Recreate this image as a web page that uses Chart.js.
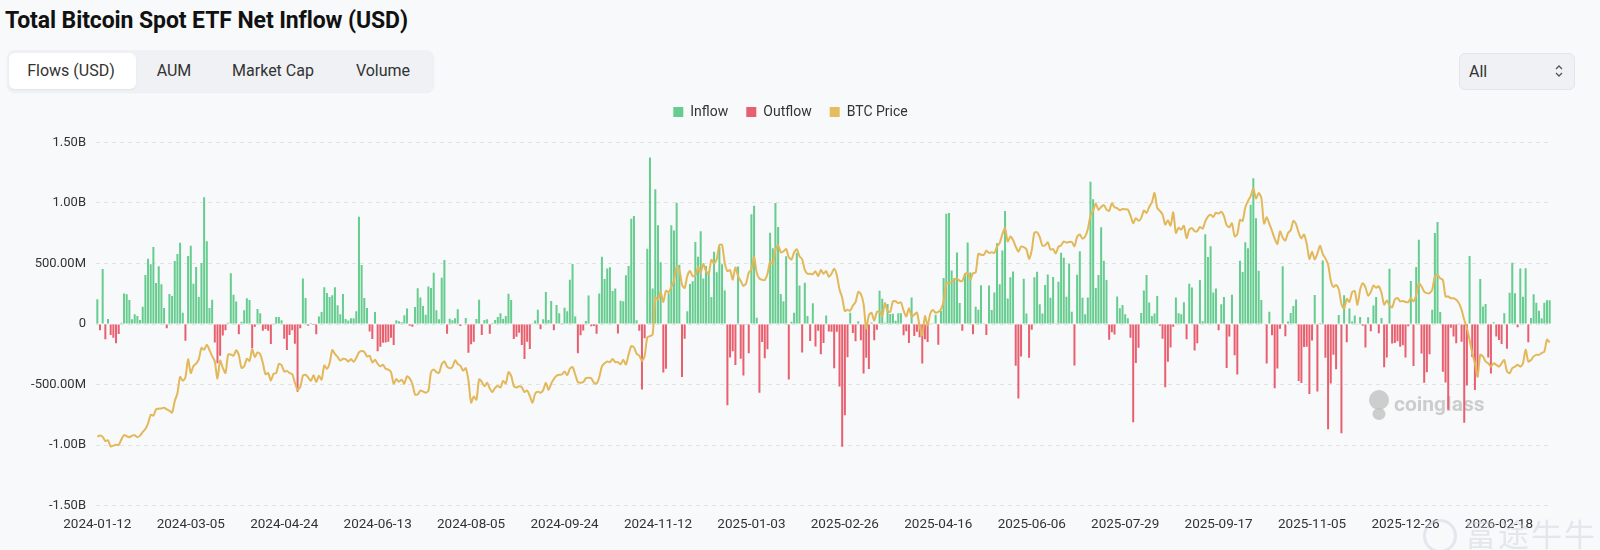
<!DOCTYPE html>
<html>
<head>
<meta charset="utf-8">
<script src="https://cdn.jsdelivr.net/npm/chart.js@4.4.1/dist/chart.umd.min.js"></script>
<style>
html,body{margin:0;padding:0;}
body{width:1600px;height:550px;background:#f8f9fa;position:relative;overflow:hidden;font-family:Roboto,"Noto Sans",sans-serif;color:#333;}
#title{position:absolute;left:5px;top:7px;font-weight:700;font-size:23px;line-height:27px;letter-spacing:-0.1px;color:#111;white-space:nowrap;}
.tabs{position:absolute;left:7px;top:50px;width:427px;height:42px;background:#eff1f4;border-radius:8px;box-shadow:0 1px 2px rgba(0,0,0,0.05);}
.tabs .sel{position:absolute;left:2px;top:3px;width:127px;height:36px;background:#fff;border-radius:6px;box-shadow:0 1px 2px rgba(0,0,0,0.06);}
.tabs span{position:absolute;top:0;line-height:42px;font-size:16px;transform:translateX(-50%);white-space:nowrap;color:#333;}
.select{position:absolute;left:1459px;top:53px;width:114px;height:35px;background:#eff1f4;border:1px solid #e2e5e9;border-radius:6px;}
.select span{position:absolute;left:9px;top:0;line-height:35px;font-size:16px;color:#333;}
.select svg{position:absolute;right:10px;top:9px;}
#chart{position:absolute;left:0;top:87px;}
#wm2{position:absolute;left:1423px;top:516px;width:180px;height:36px;pointer-events:none;opacity:0.45;white-space:nowrap;}
#wm2 .c{position:absolute;left:0;top:3px;width:28px;height:28px;border:3px solid #c9d1dc;border-radius:50%;}
#wm2 .t{position:absolute;left:42px;top:-1px;font-family:"Noto Sans CJK SC";font-size:31px;line-height:36px;color:#c9d1dc;letter-spacing:2px;white-space:nowrap;}
</style>
</head>
<body>
<div id="title">Total Bitcoin Spot ETF Net Inflow (USD)</div>
<div class="tabs">
  <div class="sel"></div>
  <span style="left:64px">Flows (USD)</span>
  <span style="left:167px">AUM</span>
  <span style="left:266px">Market Cap</span>
  <span style="left:376px">Volume</span>
</div>
<div class="select"><span>All</span>
  <svg width="10" height="16" viewBox="0 0 10 16"><path d="M2 6 L5 3 L8 6" fill="none" stroke="#555" stroke-width="1.3"/><path d="M2 10 L5 13 L8 10" fill="none" stroke="#555" stroke-width="1.3"/></svg>
</div>
<canvas id="chart" width="1600" height="463"></canvas>
<div id="wm2"><div class="c"></div><div class="t">富途牛牛</div></div>
<script>
// ---- data (flows in millions USD, BTC price in thousand USD) ----
const flows2024 = [
204,-52,455,-127,41,-91,-113,-160,-83,11,
253,245,198,39,80,66,33,143,405,540,
493,636,339,477,328,132,-36,248,231,521,
579,672,94,-138,562,647,333,471,223,504,
1047,683,132,201,-152,-325,-262,-96,-52,11,
419,242,185,-85,19,113,212,198,-201,-22,
124,88,-55,-41,-55,-165,3,58,58,30,
-121,-215,-91,-52,-163,-559,-36,377,215,-14,
8,-8,-85,63,99,303,256,223,237,303,
154,80,248,41,28,47,47,105,887,488,
215,132,-63,-124,99,-226,-187,-154,-152,-146,
-113,-174,30,22,14,72,129,-14,-22,141,
295,218,149,77,309,298,424,113,39,383,
529,-80,44,30,47,121,-17,5,50,-237,
-168,-146,41,201,-91,33,39,-80,8,33,
58,88,44,66,251,198,-124,-105,-72,-174,
-289,-146,-207,3,28,118,-44,39,264,33,
190,-52,157,88,8,135,105,366,496,61,
-242,-92,-54,25,235,-18,-16,-81,253,556,
371,458,470,273,294,-79,192,188,402,479,
870,893,30,-55,-541,-117,622,1376,293,1114,
817,510,-400,-370,255,816,773,1003,490,-438,
-122,105,330,353,677,556,767,376,479,438,
223,597,428,637,493,276,-672,-277,-226,-339,
475,-287,-426,5
];
const flows2025 = [
-242,908,978,52,-568,-149,
-284,-209,755,626,1000,802,248,188,559,-458,
18,94,588,318,-235,340,66,-140,171,-186,
-56,-251,-156,70,-61,-65,-365,-64,-516,-1014,
-754,-275,94,-74,-143,22,-134,-409,-278,-371,
13,-135,-47,274,209,11,165,83,84,27,
89,89,-93,-60,-158,220,-100,-65,-109,-326,
-127,-149,2,2,76,-171,107,381,912,917,
442,380,591,173,-56,422,674,425,-85,142,
117,321,7,-91,319,116,261,668,329,608,
934,211,386,433,-346,-616,-268,375,87,-278,
-47,386,431,164,86,322,409,216,389,6,
350,588,548,226,501,102,-342,407,601,217,
80,218,1176,1030,297,404,799,523,363,-131,
-68,-86,227,131,157,80,47,-114,-812,-323,
-196,91,277,404,178,66,86,231,-14,-122,
-523,-311,-194,-23,219,88,81,179,-127,333,
301,-220,-160,364,23,741,553,643,260,293,
-51,163,223,-363,-104,241,-258,-418,522,430,
676,627,985,1205,875,441,198,-5,-326,102,
-94,-531,-367,-40,477,-101,20,90,149,202,
-471,-488,-191,-187,-578,-137,240,-558,1,524,
-278,-870,-492,-254,-373,75,-903,238,-151,129,
21,71,-3,58,-14,-195,55,-60,152,223,
-77,49,-357,-277,457,-161,-158,-142,-188,-175,
-276,-19,355,-348
];
const flows2026 = [
471,697,-243,-486,-398,-250,
117,753,843,100,-395,-483,-709,-32,-103,-159,
7,-147,-817,-509,561,-272,-545,-434,371,145,
166,-276,-410,15,-104,-133,-165,88,-204,258,
506,254,-27,458,225,460,-150,50,245,176,
110,47,176,196,196
];
const btcPrice2024 = [
42.8,43.1,42.7,41.3,41.6,39.5,39.8,40.1,40.0,41.8,43.3,42.9,42.6,
43.1,43.2,42.6,43.1,44.3,45.3,47.1,50.0,49.7,51.8,52.0,52.1,52.3,51.8,51.3,50.7,54.5,57.1,62.5,61.2,
62.4,68.3,63.8,66.1,66.9,68.3,72.1,71.5,73.1,71.4,69.4,67.6,61.9,67.9,65.5,63.8,69.9,69.9,69.5,71.3,
69.7,65.5,66.0,68.5,67.8,71.6,69.1,70.6,70.0,67.1,63.4,63.8,61.3,63.5,63.8,66.8,66.4,64.3,64.5,63.8,63.4,60.6,
58.3,59.1,62.9,63.2,62.3,61.2,63.1,60.8,62.9,61.6,66.3,65.2,67.0,71.4,70.1,69.1,67.9,68.5,68.4,67.6,68.4,67.5,
68.8,70.6,71.1,70.8,69.3,69.5,67.3,68.2,66.8,66.0,66.5,65.2,64.9,64.1,60.3,61.8,60.9,61.6,60.3,
62.7,62.0,60.2,56.7,56.7,58.0,57.7,57.3,57.9,64.1,65.0,64.1,63.9,66.7,67.6,65.9,65.4,65.8,68.0,66.8,66.2,64.6,
65.4,61.4,54.0,56.0,55.0,61.7,60.9,59.4,60.6,58.7,57.5,58.9,59.5,59.0,61.2,60.4,64.1,62.9,59.5,59.0,59.4,59.1,
57.5,58.0,56.2,54.0,57.0,57.6,57.3,58.1,60.6,58.2,60.3,61.8,62.9,63.2,63.3,64.3,63.1,65.2,65.8,63.3,
60.8,60.6,60.8,62.1,62.2,62.1,60.6,60.3,62.4,66.0,67.0,67.6,67.4,68.4,67.4,67.4,66.7,68.2,66.6,69.9,72.7,72.3,70.2,
69.5,67.8,69.4,75.6,76.0,76.5,88.7,88.0,90.5,87.3,91.0,90.5,92.3,94.3,98.9,98.0,93.0,91.9,95.9,97.5,
95.8,96.0,98.8,97.0,99.9,97.4,96.6,101.2,100.0,101.4,106.1,106.1,100.2,97.5,97.8,94.7,98.7,95.8,94.2,92.6,93.4
];
const btcPrice2025 = [
97.0,98.1,102.1,96.9,95.0,94.6,94.5,96.5,100.5,99.9,104.5,106.1,103.7,104.0,104.8,102.1,101.3,103.7,104.7,102.4,
101.4,97.9,96.6,96.6,96.5,97.4,95.8,97.9,96.6,97.5,95.6,96.6,98.3,96.1,91.4,88.7,84.3,84.7,84.4,
86.1,87.2,90.6,89.9,86.7,78.5,82.9,83.7,81.1,84.0,84.0,82.7,86.9,84.2,84.0,87.5,87.5,86.9,87.2,84.4,82.5,
85.2,82.5,83.1,83.8,79.2,76.3,82.6,79.6,83.4,84.6,83.7,84.0,84.9,87.5,93.4,93.7,93.9,94.7,95.0,94.3,94.2,
96.5,96.9,94.7,96.8,97.0,103.2,102.9,102.8,104.2,103.5,103.7,103.5,105.6,106.8,109.7,111.7,107.3,108.9,107.8,105.6,103.9,
105.6,105.4,104.7,101.5,104.4,110.2,110.3,108.7,105.9,106.0,107.0,104.6,104.8,103.3,105.5,106.0,107.3,106.9,107.1,107.1,
105.7,108.8,109.6,108.2,108.9,111.3,115.9,117.5,119.8,117.7,118.7,119.3,117.9,117.4,119.9,118.6,118.3,117.6,118.0,117.9,117.8,115.8,
113.3,115.0,114.1,115.0,117.5,116.7,118.7,120.2,123.3,118.4,117.4,116.2,112.9,114.3,112.5,116.9,110.1,111.8,111.2,112.5,108.4,
111.2,111.7,110.7,110.7,112.1,111.5,113.9,115.5,116.1,115.4,116.8,116.5,117.1,115.7,112.7,112.0,113.3,109.0,109.7,114.4,114.1,
118.6,120.6,122.3,124.7,121.5,123.3,121.7,113.2,115.3,113.1,110.8,108.2,106.5,110.6,108.5,107.6,110.1,111.0,114.1,113.0,110.1,108.3,109.6,
106.5,101.5,103.9,101.3,103.3,105.9,103.1,101.7,99.7,94.4,92.2,92.9,91.5,86.6,85.1,88.3,87.3,90.5,90.9,
86.3,91.3,93.5,92.1,89.4,90.6,92.7,92.0,92.5,90.3,86.4,87.8,86.2,85.5,88.1,88.6,87.5,87.6,87.3,87.2,88.5,87.5
];
const btcPrice2026 = [
89.6,93.5,92.4,90.7,90.2,90.2,91.3,95.7,96.3,95.1,94.6,89.1,89.1,88.5,88.5,88.0,86.9,84.7,81.4,78.6,
74.8,70.4,67.0,62.6,69.8,69.3,67.6,67.0,65.9,67.0,66.5,65.9,67.0,68.1,64.3,63.7,65.4,65.9,66.5,
65.9,67.0,71.5,67.6,68.1,69.3,69.8,69.8,70.4,70.9,74.8,73.9
];
// US market holidays (no ETF trading day)
const holidays = ['2024-01-15','2024-02-19','2024-03-29','2024-05-27','2024-06-19','2024-07-04','2024-09-02','2024-11-28','2024-12-25',
'2025-01-01','2025-01-09','2025-01-20','2025-02-17','2025-04-18','2025-05-26','2025-06-19','2025-07-04','2025-09-01','2025-11-27','2025-12-25',
'2026-01-01','2026-01-19','2026-02-16'];
const firstDate = '2024-01-12';
const xTickLabels = ['2024-01-12','2024-03-05','2024-04-24','2024-06-13','2024-08-05','2024-09-24','2024-11-12','2025-01-03',
'2025-02-26','2025-04-16','2025-06-06','2025-07-29','2025-09-17','2025-11-05','2025-12-26','2026-02-18'];
const yTickValues = [-1500,-1000,-500,0,500,1000,1500];

// ---- build ----
const flows = flows2024.concat(flows2025, flows2026);
const btcPrice = btcPrice2024.concat(btcPrice2025, btcPrice2026);
const dates = [];
{
  const p = firstDate.split('-').map(Number);
  const d = new Date(Date.UTC(p[0], p[1]-1, p[2]));
  while (dates.length < flows.length) {
    const wd = d.getUTCDay();
    const s = d.toISOString().slice(0,10);
    if (wd !== 0 && wd !== 6 && !holidays.includes(s)) dates.push(s);
    d.setUTCDate(d.getUTCDate()+1);
  }
}
const inflow = flows.map(v => v >= 0 ? v : null);
const outflow = flows.map(v => v < 0 ? v : null);

function fmtFlow(v){
  if (v === 0) return '0';
  return Math.abs(v) >= 1000 ? (v/1000).toFixed(2) + 'B' : v.toFixed(2) + 'M';
}

const legendHeight = {
  id: 'legendHeight',
  beforeInit(chart){
    const orig = chart.legend.fit;
    chart.legend.fit = function(){ orig.call(this); this.height = 55.5; };
  }
};
const watermark = {
  id: 'watermark',
  beforeDatasetsDraw(chart){
    const c = chart.ctx;
    c.save();
    c.fillStyle = 'rgba(190,190,190,0.75)';
    c.beginPath(); c.arc(1379, 313, 10, 0, Math.PI*2); c.fill();
    c.beginPath(); c.ellipse(1379, 327, 6.5, 6, 0, 0, Math.PI*2); c.fill();
    c.font = '700 21px Roboto';
    c.textBaseline = 'middle';
    c.textAlign = 'left';
    c.fillText('coinglass', 1394, 319);
    c.restore();
  }
};

Chart.defaults.font.family = 'Roboto';
new Chart(document.getElementById('chart'), {
  type: 'bar',
  data: {
    labels: dates,
    datasets: [
      { label:'Inflow', data: inflow, backgroundColor:'#66cc8f', borderWidth:0, grouped:false,
        barPercentage:0.75, categoryPercentage:1, order:2, yAxisID:'y' },
      { label:'Outflow', data: outflow, backgroundColor:'#e8606f', borderWidth:0, grouped:false,
        barPercentage:0.75, categoryPercentage:1, order:2, yAxisID:'y' },
      { type:'line', label:'BTC Price', data: btcPrice, borderColor:'#e2b85a', backgroundColor:'#e5bc5e',
        borderWidth:2, pointRadius:0, tension:0.25, yAxisID:'y1', order:1 }
    ]
  },
  options: {
    responsive:false, animation:false, devicePixelRatio:1,
    layout:{ padding:{ left:30, right:49, top:0, bottom:14.5 } },
    plugins:{
      legend:{ display:true, position:'top', align:'center',
        labels:{ boxWidth:10, boxHeight:10, padding:18, color:'#333', font:{ size:14 },
          sort:(a,b)=>a.datasetIndex-b.datasetIndex,
          generateLabels(chart){
            const items = Chart.defaults.plugins.legend.labels.generateLabels(chart);
            items.forEach(i => { i.lineWidth = 0; });
            return items;
          } } },
      tooltip:{ enabled:false }
    },
    scales:{
      x:{ type:'category', offset:true,
        grid:{ display:false, drawTicks:false }, border:{ display:false },
        ticks:{ autoSkip:false, maxRotation:0, minRotation:0, padding:11, color:'#333', font:{ size:13.5 },
          callback:function(v){ const lab = this.getLabelForValue(v); return xTickLabels.includes(lab) ? lab : null; } },
        afterFit(s){ s.height = 30; } },
      y:{ min:-1500, max:1500,
        grid:{ color:'#e3e3e3', drawTicks:false }, border:{ display:false, dash:[4,4] },
        ticks:{ padding:10, color:'#333', font:{ size:13 }, callback: fmtFlow },
        afterBuildTicks(s){ s.ticks = yTickValues.map(v => ({ value:v })); },
        afterFit(s){ s.width = 66; } },
      y1:{ display:false, min:20, max:140 }
    }
  },
  plugins:[legendHeight, watermark]
});
</script>
</body>
</html>
